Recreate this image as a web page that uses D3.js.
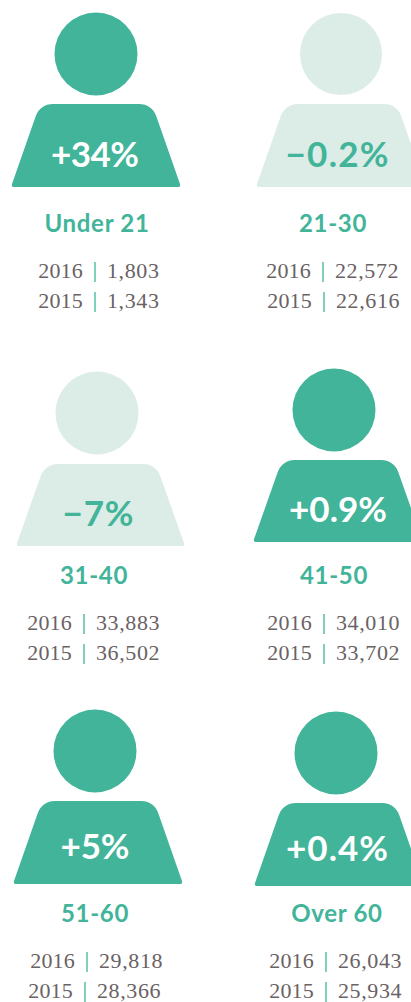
<!DOCTYPE html>
<html lang="en">
<head>
    <meta charset="UTF-8">
    <title>Age groups</title>
    <style>
        html, body { margin: 0; padding: 0; background: #fff; overflow: hidden; }
        svg { display: block; }
        .change { font: 700 35px Lato, sans-serif; text-anchor: middle; }
        .group { font: 700 24px Lato, sans-serif; text-anchor: middle; fill: #41b499; letter-spacing: .7px; }
        .row { font: 22px "Liberation Serif", serif; fill: #6a6264; letter-spacing: .2px; }
        .row.value { letter-spacing: .6px; }
    </style>
    <script src="https://d3js.org/d3.v7.min.js"></script>
</head>
<body>
<div id="container"></div>
<script>
    // values
    var groups = ["Under 21", "21-30", "31-40", "41-50", "51-60", "Over 60"];
    var changes = ["+34%", "\u22120.2%", "\u22127%", "+0.9%", "+5%", "+0.4%"];
    var falling = [false, true, true, false, false, false];
    var values2016 = ["1,803", "22,572", "33,883", "34,010", "29,818", "26,043"];
    var values2015 = ["1,343", "22,616", "36,502", "33,702", "28,366", "25,934"];
    var years = ["2016", "2015"];

    var width = 411, height = 1002;
    var dark = "#41b499", light = "#dcece6", barColor = "#7fd0b8";

    // each figure was placed by hand in the original, so no regular grid here
    var layout = [
        {cx: 96,  cy: 54,  r: 41.5, left: 11,  right: 181, top: 104, bottom: 187, changeX: 95,  changeY: 167, changeW: 88,  groupX: 97,  groupY: 232, rowY: 278, barX: [95, 95]},
        {cx: 341, cy: 54,  r: 41,   left: 256, right: 426, top: 104, bottom: 187, changeX: 337, changeY: 167, changeW: 103, groupX: 333, groupY: 232, rowY: 278, barX: [323, 324]},
        {cx: 97,  cy: 413, r: 41.5, left: 16,  right: 185, top: 464, bottom: 546, changeX: 98,  changeY: 526, changeW: 71,  groupX: 94,  groupY: 584, rowY: 630, barX: [84, 84]},
        {cx: 334, cy: 410, r: 41.5, left: 253, right: 423, top: 460, bottom: 542, changeX: 338, changeY: 522, changeW: 98,  groupX: 334, groupY: 584, rowY: 630, barX: [324, 324]},
        {cx: 95,  cy: 751, r: 41.5, left: 13,  right: 183, top: 801, bottom: 884, changeX: 95,  changeY: 859, changeW: 69,  groupX: 95,  groupY: 922, rowY: 968, barX: [87, 85]},
        {cx: 336, cy: 753, r: 41.5, left: 254, right: 424, top: 803, bottom: 886, changeX: 337, changeY: 861, changeW: 102, groupX: 337, groupY: 922, rowY: 968, barX: [326, 326]}
    ];

    // trapezoid torso with rounded shoulders and slightly softened feet
    function bodyPath(d) {
        var p = d3.path();
        var inset = 29, radius = 18, foot = 2;
        var mid = (d.left + d.right) / 2;
        p.moveTo(mid, d.bottom);
        p.arcTo(d.left, d.bottom, d.left + inset, d.top, foot);
        p.arcTo(d.left + inset, d.top, d.right - inset, d.top, radius);
        p.arcTo(d.right - inset, d.top, d.right, d.bottom, radius);
        p.arcTo(d.right, d.bottom, mid, d.bottom, foot);
        p.closePath();
        return p.toString();
    }

    var svg = d3.select("#container")
        .append("svg")
        .attr("width", width)
        .attr("height", height);

    var figures = svg.selectAll("g.figure")
        .data(groups)
        .enter()
        .append("g")
        .attr("class", "figure");

    figures.append("circle")
        .attr("cx", function(d, i) { return layout[i].cx; })
        .attr("cy", function(d, i) { return layout[i].cy; })
        .attr("r", function(d, i) { return layout[i].r; })
        .style("fill", function(d, i) { return falling[i] ? light : dark; });

    figures.append("path")
        .attr("d", function(d, i) { return bodyPath(layout[i]); })
        .style("fill", function(d, i) { return falling[i] ? light : dark; });

    figures.append("text")
        .attr("class", "change")
        .attr("x", function(d, i) { return layout[i].changeX; })
        .attr("y", function(d, i) { return layout[i].changeY; })
        .attr("textLength", function(d, i) { return layout[i].changeW; })
        .style("fill", function(d, i) { return falling[i] ? dark : "#fff"; })
        .text(function(d, i) { return changes[i]; });

    figures.append("text")
        .attr("class", "group")
        .attr("x", function(d, i) { return layout[i].groupX; })
        .attr("y", function(d, i) { return layout[i].groupY; })
        .text(function(d) { return d; });

    // year | value rows
    figures.each(function(d, i) {
        var g = d3.select(this), l = layout[i];
        years.forEach(function(year, j) {
            var y = l.rowY + j * 30, bar = l.barX[j];
            g.append("text")
                .attr("class", "row")
                .attr("x", bar - 12)
                .attr("y", y)
                .style("text-anchor", "end")
                .text(year);
            g.append("rect")
                .attr("x", bar - 1)
                .attr("y", y - 16)
                .attr("width", 2)
                .attr("height", 20)
                .style("fill", barColor);
            g.append("text")
                .attr("class", "row value")
                .attr("x", bar + 12)
                .attr("y", y)
                .text(j === 0 ? values2016[i] : values2015[i]);
        });
    });
</script>
</body>
</html>
